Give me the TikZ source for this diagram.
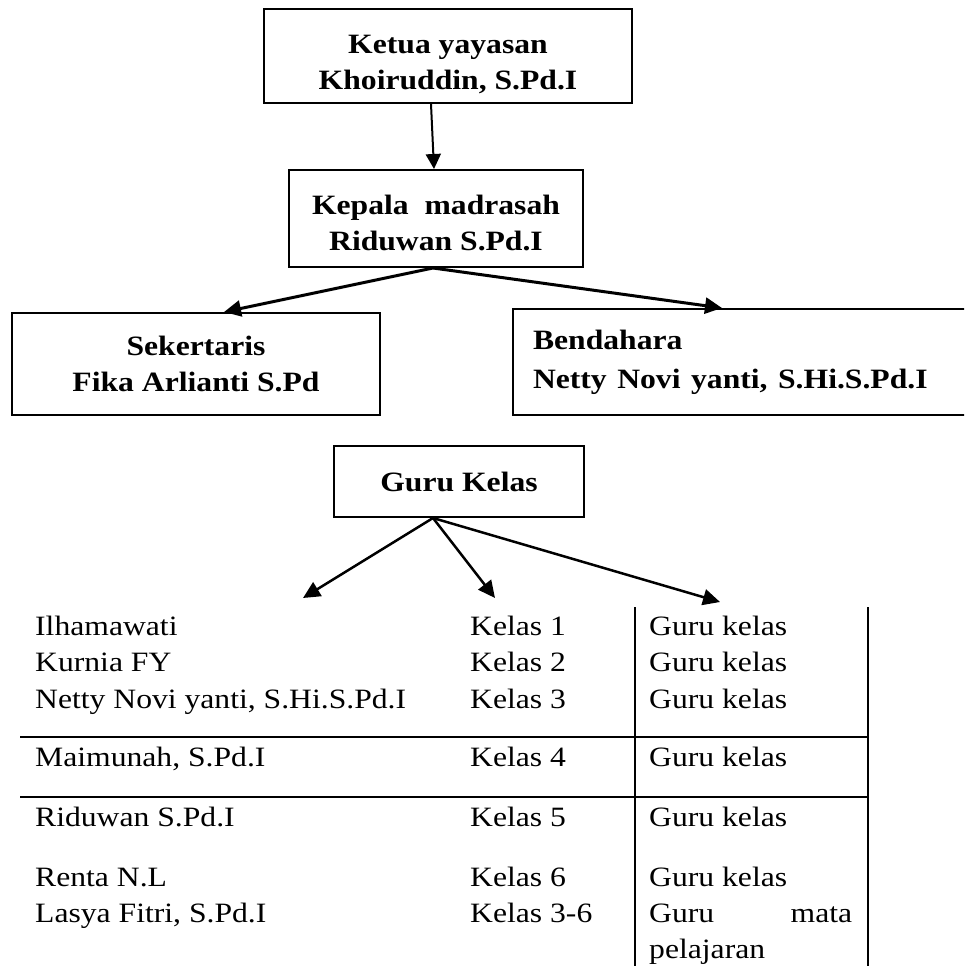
\documentclass[tikz,border=0pt]{standalone}
\usepackage{fontspec}
\setmainfont{Liberation Serif}
\usetikzlibrary{arrows.meta}
\newcommand{\sx}[1]{\scalebox{1.13}[1]{#1}}
\begin{document}
\begin{tikzpicture}[x=1pt,y=-1pt,
  box/.style={draw, line width=2pt, inner sep=0pt, font=\fontsize{28}{36}\selectfont\bfseries, align=center},
  arr/.style={line width=2.5pt, -{Triangle[length=17pt,width=16pt]}},
  cell/.style={anchor=base west, inner sep=0pt, font=\fontsize{28}{36}\selectfont},
  rulel/.style={line width=2.6pt},
  vline/.style={line width=2pt}]
\clip (0,0) rectangle (964,966);
\node[box, minimum width=368pt, minimum height=94pt] (ketua) at (448,56) {\rule{0pt}{36pt}\sx{Ketua yayasan}\\\sx{Khoiruddin, S.Pd.I}};
\node[box, minimum width=294pt, minimum height=97pt] (kepala) at (436,218.5) {\rule{0pt}{28pt}\sx{Kepala\ \ madrasah}\\\sx{Riduwan S.Pd.I}};
\node[box, minimum width=368pt, minimum height=102pt] (sek) at (196,364) {\sx{Sekertaris}\\\sx{Fika Arlianti S.Pd}};
\node[box, align=left, text width=467pt, inner xsep=20pt, minimum height=106pt] (bend) at (766.5,362) {\sx{Bendahara}\\[3pt]\sx{Netty Novi yanti, S.Hi.S.Pd.I}};
\node[box, minimum width=250pt, minimum height=71pt] (guru) at (459,481.5) {\sx{Guru Kelas}};

\draw[arr, line width=2pt, -{Triangle[length=15pt,width=15pt]}] ([xshift=-17pt]ketua.south) -- ([xshift=-2pt]kepala.north);
\draw[arr, line width=3pt] ([xshift=-3pt]kepala.south) -- ([xshift=28pt]sek.north);
\draw[arr, line width=3pt] ([xshift=-3pt]kepala.south) -- ([xshift=-44.5pt]bend.north);

\coordinate (t1) at (303,598);
\coordinate (t2) at (495,598);
\coordinate (t3) at (720,602);
\draw[arr] ([xshift=-26pt]guru.south) -- (t1);
\draw[arr] ([xshift=-26pt]guru.south) -- (t2);
\draw[arr] ([xshift=-26pt]guru.south) -- (t3);

% table rules
\draw[vline] (635,607) -- (635,972);
\draw[vline] (868,607) -- (868,972);
\draw[rulel] (20,737) -- (869,737);
\draw[rulel] (20,797) -- (869,797);

% table text
\node[cell] (n1) at (35,635) {\sx{Ilhamawati}};
\node[cell] (n2) at (35,671.5) {\sx{Kurnia FY}};
\node[cell] (n3) at (35,708.5) {\sx{Netty Novi yanti, S.Hi.S.Pd.I}};
\node[cell] (n4) at (35,766) {\sx{Maimunah, S.Pd.I}};
\node[cell] (n5) at (35,826) {\sx{Riduwan S.Pd.I}};
\node[cell] (n6) at (35,886) {\sx{Renta N.L}};
\node[cell] (n7) at (35,922) {\sx{Lasya Fitri, S.Pd.I}};

\node[cell] (k1) at (470,635) {\sx{Kelas 1}};
\node[cell] (k2) at (470,671.5) {\sx{Kelas 2}};
\node[cell] (k3) at (470,708.5) {\sx{Kelas 3}};
\node[cell] (k4) at (470,766) {\sx{Kelas 4}};
\node[cell] (k5) at (470,826) {\sx{Kelas 5}};
\node[cell] (k6) at (470,886) {\sx{Kelas 6}};
\node[cell] (k7) at (470,922) {\sx{Kelas 3-6}};

\node[cell] (g1) at (649,635) {\sx{Guru kelas}};
\node[cell] (g2) at (649,671.5) {\sx{Guru kelas}};
\node[cell] (g3) at (649,708.5) {\sx{Guru kelas}};
\node[cell] (g4) at (649,766) {\sx{Guru kelas}};
\node[cell] (g5) at (649,826) {\sx{Guru kelas}};
\node[cell] (g6) at (649,886) {\sx{Guru kelas}};
\node[cell] (g7) at (649,922) {\sx{\hbox to 179.6pt{Guru\hfill mata}}};
\node[cell] (g8) at (649,958) {\sx{pelajaran}};
\end{tikzpicture}
\end{document}
